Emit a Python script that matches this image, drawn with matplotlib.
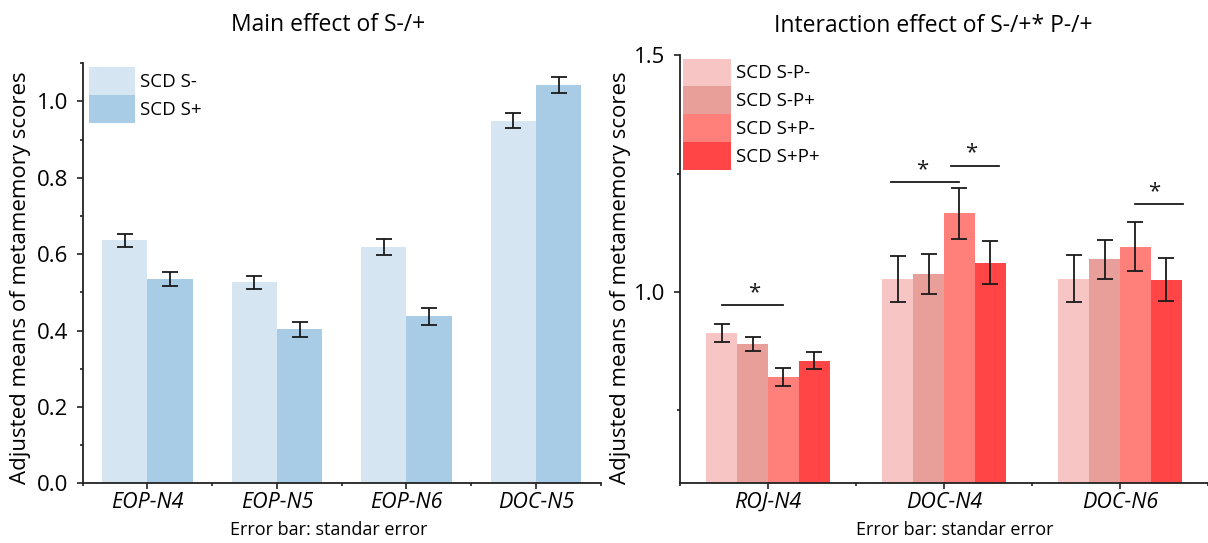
import numpy as np
import matplotlib
matplotlib.use("Agg")
from matplotlib import pyplot as plt
from matplotlib.ticker import MultipleLocator, FixedLocator, FormatStrFormatter

plt.rcParams['font.family'] = ['Open Sans', 'DejaVu Sans']

# main effect panel
main_groups = ['EOP-N4', 'EOP-N5', 'EOP-N6', 'DOC-N5']
main_labels = ['SCD S-', 'SCD S+']
main_means = [[0.636, 0.526, 0.620, 0.950],
              [0.535, 0.403, 0.437, 1.042]]
main_err = [[0.016, 0.018, 0.021, 0.020],
            [0.018, 0.020, 0.022, 0.021]]
main_colors = ['#d5e5f2', '#a9cce6']

# interaction panel
int_groups = ['ROJ-N4', 'DOC-N4', 'DOC-N6']
int_labels = ['SCD S-P-', 'SCD S-P+', 'SCD S+P-', 'SCD S+P+']
int_means = [[0.913, 1.028, 1.028],
             [0.890, 1.038, 1.069],
             [0.820, 1.166, 1.096],
             [0.855, 1.062, 1.026]]
int_err = [[0.019, 0.049, 0.050],
           [0.015, 0.042, 0.041],
           [0.019, 0.054, 0.052],
           [0.018, 0.045, 0.045]]
int_colors = ['#f7c6c4', '#e89e99', '#ff807a', '#ff4545']

# significance brackets: x start, x end, y, star x
sig_start = [-0.2625, 0.70, 1.04, 2.086]
sig_end = [0.0875, 1.0875, 1.31, 2.357]
sig_y = [0.973, 1.232, 1.267, 1.185]
sig_star_x = [-0.076, 0.874, 1.156, 2.196]

fig = plt.figure(figsize=(12.08, 5.43), dpi=100)
ax1 = fig.add_axes([0.0685, 0.110, 0.4288, 0.7735])
ax2 = fig.add_axes([0.5629, 0.1105, 0.4371, 0.788])


def style_axis(ax):
    for s in ['top', 'right']:
        ax.spines[s].set_visible(False)
    for s in ['left', 'bottom']:
        ax.spines[s].set_linewidth(1.3)
        ax.spines[s].set_color('#222222')
    ax.tick_params(which='major', length=4.5, width=1.2, color='#222222',
                   labelsize=16)
    ax.tick_params(which='minor', length=2.5, width=1.2, color='#222222')
    ax.tick_params(axis='y', pad=6)
    ax.tick_params(axis='x', pad=2, labelsize=15.5)
    for lab in ax.get_xticklabels():
        lab.set_fontstyle('italic')


errkw = dict(ecolor='#1a1a1a', elinewidth=1.3, capsize=5.5, capthick=1.3)

w1 = 0.35
x1 = np.arange(len(main_groups))
for i, lab in enumerate(main_labels):
    ax1.bar(x1 + (i - 0.5) * w1, main_means[i], w1, yerr=main_err[i],
            color=main_colors[i], label=lab, error_kw=errkw)
ax1.set_xlim(-0.5, 3.5)
ax1.set_ylim(0, 1.1)
ax1.set_xticks(x1)
ax1.set_xticklabels(main_groups)
ax1.xaxis.set_minor_locator(FixedLocator(np.arange(-0.5, 3.6, 1.0)))
ax1.yaxis.set_major_locator(MultipleLocator(0.2))
ax1.yaxis.set_minor_locator(MultipleLocator(0.1))
ax1.yaxis.set_major_formatter(FormatStrFormatter('%.1f'))
style_axis(ax1)
ax1.set_ylabel('Adjusted means of metamemory scores', fontsize=16)
ax1.yaxis.set_label_coords(-0.0998, 0.49)
ax1.set_xlabel('Error bar: standar error', fontsize=13)
ax1.xaxis.set_label_coords(0.474, -0.09)
ax1.set_title('Main effect of S-/+', fontsize=16.5, x=0.4745, pad=23)
ax1.legend(loc='upper left', bbox_to_anchor=(0.0125, 0.9905), frameon=False,
           fontsize=13.5, handlelength=2.43, handleheight=1.9, labelspacing=0,
           handletextpad=0.27, borderpad=0, borderaxespad=0)

w2 = 0.175
x2 = np.arange(len(int_groups))
for i, lab in enumerate(int_labels):
    ax2.bar(x2 + (i - 1.5) * w2, int_means[i], w2, yerr=int_err[i],
            color=int_colors[i], label=lab, error_kw=errkw)
for xs, xe, y, sx in zip(sig_start, sig_end, sig_y, sig_star_x):
    ax2.plot([xs, xe], [y, y], color='#1a1a1a', lw=1.3)
    ax2.text(sx, y + 0.004, '*', ha='center', va='bottom',
             fontsize=16, color='#1a1a1a')
ax2.set_xlim(-0.5, 2.5)
ax2.set_ylim(0.597, 1.5)
ax2.set_xticks(x2)
ax2.set_xticklabels(int_groups)
ax2.xaxis.set_minor_locator(FixedLocator(np.arange(-0.5, 2.6, 1.0)))
ax2.yaxis.set_major_locator(FixedLocator([1.0, 1.5]))
ax2.yaxis.set_minor_locator(FixedLocator([0.75, 1.25]))
ax2.yaxis.set_major_formatter(FormatStrFormatter('%.1f'))
style_axis(ax2)
ax2.set_ylabel('Adjusted means of metamemory scores', fontsize=16)
ax2.yaxis.set_label_coords(-0.0928, 0.479)
ax2.set_xlabel('Error bar: standar error', fontsize=13)
ax2.xaxis.set_label_coords(0.52, -0.0888)
ax2.set_title('Interaction effect of S-/+* P-/+', fontsize=16.5, x=0.479, pad=17)
ax2.legend(loc='upper left', bbox_to_anchor=(0.0064, 0.992), frameon=False,
           fontsize=13.5, handlelength=2.54, handleheight=1.9, labelspacing=0,
           handletextpad=0.27, borderpad=0, borderaxespad=0)

fig.savefig('out.png', dpi=100)
